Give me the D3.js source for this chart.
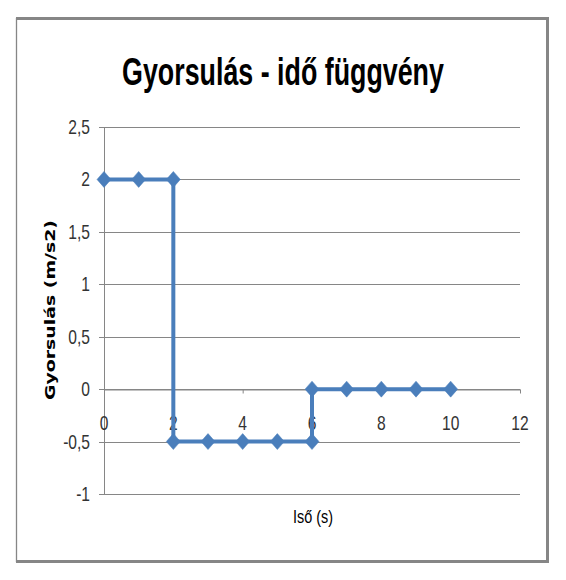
<!DOCTYPE html>
<html>
<head>
<meta charset="utf-8">
<script src="https://cdn.jsdelivr.net/npm/d3@7"></script>
<style>
html,body{margin:0;padding:0;background:#fff;}
svg{display:block;}
</style>
</head>
<body>
<svg id="chart" width="566" height="580"></svg>
<script>
const timeValues = [0, 1, 2, 2, 3, 4, 5, 6, 6, 7, 8, 9, 10];
const accelValues = [2, 2, 2, -0.5, -0.5, -0.5, -0.5, -0.5, 0, 0, 0, 0, 0];
const xTicks = [0, 2, 4, 6, 8, 10, 12];
const yTicks = [-1, -0.5, 0, 0.5, 1, 1.5, 2, 2.5];
const titleText = "Gyorsulás - idő függvény";
const xTitle = "Iső (s)";
const yTitle = "Gyorsulás  (m/s2)";

const svg = d3.select("#chart");
const narrow = "'Liberation Sans Narrow','Arial Narrow','Liberation Sans',sans-serif";
const grid = "#868686";
const blue = "#4a7ebb";

// outer frame
svg.append("rect").attr("x", 16.5).attr("y", 18.5).attr("width", 531).attr("height", 543)
  .attr("fill", "#fff").attr("stroke", grid).attr("stroke-width", 1.3);
svg.append("line").attr("x1", 16).attr("x2", 549).attr("y1", 18.5).attr("y2", 18.5).attr("stroke", grid).attr("stroke-width", 3);
svg.append("line").attr("x1", 547.5).attr("x2", 547.5).attr("y1", 17).attr("y2", 563).attr("stroke", grid).attr("stroke-width", 3);
svg.append("line").attr("x1", 16).attr("x2", 549).attr("y1", 561.5).attr("y2", 561.5).attr("stroke", grid).attr("stroke-width", 3);

const x = d3.scaleLinear().domain([0, 12]).range([104, 520]);
const y = d3.scaleLinear().domain([-1, 2.5]).range([494, 127]);

// horizontal gridlines
svg.append("g").selectAll("line").data(yTicks).join("line")
  .attr("x1", x(0) - 5).attr("x2", x(12))
  .attr("y1", d => Math.round(y(d)) + 0.5).attr("y2", d => Math.round(y(d)) + 0.5)
  .attr("stroke", grid).attr("stroke-width", 1);

// y axis line
svg.append("line").attr("x1", x(0) + 0.5).attr("x2", x(0) + 0.5)
  .attr("y1", y(2.5)).attr("y2", y(-1)).attr("stroke", grid).attr("stroke-width", 1);

// x axis at y=0 with ticks
const xAxis = d3.axisBottom(x).tickValues(xTicks).tickSize(4).tickSizeOuter(0).tickFormat(() => "");
const gx = svg.append("g").attr("transform", `translate(0,${Math.round(y(0)) + 0.5})`).call(xAxis);
gx.selectAll("path,line").attr("stroke", grid);

// x tick labels
svg.append("g").selectAll("text").data(xTicks).join("text")
  .attr("transform", d => `translate(${x(d)},${y(0) + 41}) scale(0.78,1)`)
  .attr("text-anchor", "middle")
  .attr("font-family", narrow).attr("font-size", 20).attr("fill", "#333")
  .text(d => d);

// y tick labels
const fmt = d => String(d).replace(".", ",");
svg.append("g").selectAll("text").data(yTicks).join("text")
  .attr("transform", d => `translate(90,${y(d) + 7}) scale(0.78,1)`)
  .attr("text-anchor", "end")
  .attr("font-family", narrow).attr("font-size", 20).attr("fill", "#333")
  .text(fmt);

// line
const pts = timeValues.map((t, i) => [t, accelValues[i]]);
svg.append("path").datum(pts)
  .attr("d", d3.line().x(d => x(d[0])).y(d => y(d[1])))
  .attr("fill", "none").attr("stroke", blue).attr("stroke-width", 4).attr("stroke-linejoin", "round");

// diamond markers
svg.append("g").selectAll("path").data(pts).join("path")
  .attr("transform", d => `translate(${x(d[0])},${y(d[1])})`)
  .attr("d", "M0,-8L7,0L0,8L-7,0Z")
  .attr("fill", blue).attr("stroke", blue).attr("stroke-width", 0.5);

// title (narrowed by scaling to the measured width)
const title = svg.append("text")
  .attr("text-anchor", "middle")
  .attr("font-family", narrow).attr("font-weight", "bold").attr("font-size", 38)
  .attr("fill", "#000").text(titleText);
const tw = title.node().getComputedTextLength() || 322;
title.attr("transform", `translate(283,85) scale(${322 / tw},1)`);

// x title
const xt = svg.append("text")
  .attr("text-anchor", "middle")
  .attr("font-family", narrow).attr("font-size", 19)
  .attr("fill", "#000").text(xTitle);
const xw = xt.node().getComputedTextLength() || 40;
xt.attr("transform", `translate(313,523) scale(${40 / xw},1)`);

// y title
const yt = svg.append("text")
  .attr("text-anchor", "middle")
  .attr("font-family", "'DejaVu Sans',sans-serif").attr("font-weight", "bold").attr("font-size", 14)
  .attr("fill", "#000").text(yTitle);
const yw = yt.node().getComputedTextLength() || 180;
yt.attr("transform", `translate(55,310) rotate(-90) scale(${180 / yw},1)`);
</script>
</body>
</html>
